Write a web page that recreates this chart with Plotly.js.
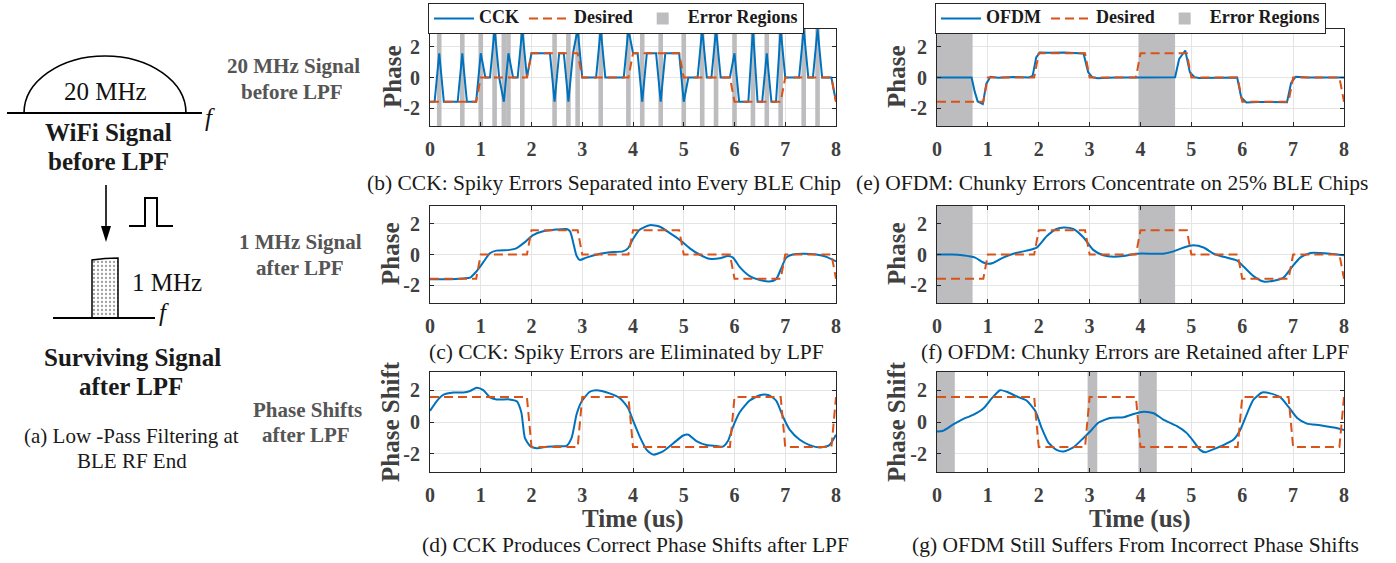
<!DOCTYPE html>
<html>
<head>
<meta charset="utf-8">
<script src="https://cdn.plot.ly/plotly-3.0.1.min.js"></script>
<style>html,body{margin:0;padding:0;background:#fff;}#chart{width:1396px;height:563px;}</style>
</head>
<body>
<div id="chart"></div>
<script>
// ---------------- data ----------------
const Q = 1.57, N = -1.57, Z = 0, P = 3.14;

const xTicks = [0, 1, 2, 3, 4, 5, 6, 7, 8];
const yTicks = [-2, 0, 2];
const yTickText = ['-2', '0', '2'];

// desired chip phases (rows 1, 2)
const desiredPhaseT = [0, 0.91, 1.0, 1.91, 2.0, 2.91, 3.0, 3.91, 4.0, 4.91, 5.0, 5.91, 6.0, 6.91, 7.0, 7.91, 8.0];
const desiredPhaseV = [N, N, Z, Z, Q, Q, Z, Z, Q, Q, Z, Z, N, N, Z, Z, N];

// desired phase shifts (row 3)
const desiredShiftT = [0, 1.91, 2.0, 2.91, 3.0, 3.91, 4.0, 5.91, 6.0, 6.91, 7.0, 7.91, 8.0];
const desiredShiftV = [Q, Q, N, N, Q, Q, N, N, Q, Q, N, N, Q];

// (b) CCK before LPF, 11 Mchip/s samples
const cckRate = 11;
const cckRaw = [
  N, N, Q, N, N, N, N, Q, N, N,
  N, Q, Z, Z, P, Z, N, Q, Z, Z,
  P, Z, Q, Q, Q, Q, Q, N, Q, Q,
  N, Q, P, Z, Z, Z, Z, P, Z, Z,
  Z, Z, Z, P, Q, Q, N, Q, Q, Q,
  N, Q, Q, Q, Q, N, Z, Z, Z, P,
  Z, Z, P, Z, Z, Z, Q, N, N, N,
  P, N, N, Q, N, N, P, Z, Z, Z,
  Z, P, Z, Z, P, Z, Z, Z, N
];

// (e) OFDM before LPF
const ofdmRawT = [0, 0.68, 0.74, 0.8, 0.9, 0.97, 1.05, 1.2, 1.5, 1.8, 1.88, 1.95, 2.02, 2.2, 2.5, 2.8, 2.88, 2.97, 3.05, 3.15, 3.5, 4.0, 4.5, 4.68, 4.76, 4.88, 4.97, 5.06, 5.15, 5.5, 5.9, 5.98, 6.08, 6.3, 6.6, 6.88, 6.96, 7.05, 7.3, 7.6, 8.0];
const ofdmRawV = [0, 0, -0.9, -1.55, -1.72, -0.4, 0.05, -0.02, 0.03, 0, 0.1, 1.3, 1.62, 1.6, 1.62, 1.6, 1.55, 0.35, 0.02, -0.05, 0, 0, 0, 0.02, 1.2, 1.75, 0.35, 0.02, -0.03, 0, 0, -1.3, -1.62, -1.58, -1.6, -1.6, -0.35, 0.05, 0, 0, 0];

// (c) CCK after LPF
const cckLpfT = [0, 0.3, 0.66, 0.79, 0.9, 1.05, 1.18, 1.31, 1.57, 1.7, 1.87, 2.03, 2.23, 2.49, 2.69, 2.76, 2.82, 2.89, 2.95, 3.08, 3.35, 3.54, 3.8, 3.9, 4.0, 4.13, 4.33, 4.53, 4.72, 4.92, 5.12, 5.31, 5.51, 5.71, 5.87, 5.97, 6.1, 6.3, 6.5, 6.69, 6.82, 6.92, 7.02, 7.15, 7.35, 7.61, 7.81, 8.0];
const cckLpfV = [-1.6, -1.6, -1.55, -1.5, -1.15, -0.5, 0.08, 0.25, 0.3, 0.4, 0.8, 1.25, 1.5, 1.62, 1.65, 1.5, 0.8, -0.1, -0.35, -0.2, 0.05, 0.15, 0.2, 0.4, 1.0, 1.6, 1.9, 1.8, 1.4, 0.95, 0.4, 0.0, -0.28, -0.25, -0.1, -0.2, -0.8, -1.4, -1.65, -1.75, -1.6, -0.9, -0.2, 0.0, 0.05, 0.0, -0.15, -0.45];

// (f) OFDM after LPF
const ofdmLpfT = [0, 0.3, 0.5, 0.75, 0.9, 1.0, 1.1, 1.3, 1.5, 1.76, 1.96, 2.16, 2.35, 2.49, 2.68, 2.88, 3.07, 3.27, 3.47, 3.67, 3.93, 4.26, 4.45, 4.65, 4.85, 5.04, 5.24, 5.44, 5.63, 5.9, 6.03, 6.22, 6.42, 6.62, 6.81, 6.98, 7.14, 7.34, 7.53, 7.73, 8.0];
const ofdmLpfV = [0, 0, -0.05, -0.2, -0.5, -0.6, -0.55, -0.2, 0.05, 0.25, 0.45, 1.2, 1.65, 1.75, 1.65, 1.1, 0.3, -0.05, -0.15, -0.1, 0.05, 0.05, 0.05, 0.2, 0.45, 0.6, 0.45, 0.05, -0.15, -0.4, -0.8, -1.4, -1.75, -1.7, -1.5, -0.8, -0.2, 0.1, 0.1, 0.05, -0.05];

// (d) CCK phase shifts
const cckShiftT = [0, 0.13, 0.26, 0.46, 0.66, 0.79, 0.92, 1.05, 1.18, 1.31, 1.57, 1.71, 1.8, 1.87, 1.97, 2.1, 2.3, 2.49, 2.69, 2.79, 2.89, 2.99, 3.15, 3.28, 3.54, 3.74, 3.9, 4.0, 4.13, 4.27, 4.4, 4.59, 4.79, 4.99, 5.09, 5.25, 5.45, 5.64, 5.77, 5.87, 5.97, 6.1, 6.3, 6.5, 6.66, 6.82, 6.96, 7.09, 7.28, 7.48, 7.68, 7.87, 8.0];
const cckShiftV = [0.7, 1.3, 1.7, 1.85, 1.85, 1.95, 2.15, 2.0, 1.55, 1.42, 1.42, 1.3, 0.6, -1.0, -1.5, -1.65, -1.55, -1.52, -1.5, -1.0, 0.5, 1.3, 1.9, 2.0, 1.8, 1.5, 0.9, 0.1, -0.9, -1.75, -2.05, -1.85, -1.35, -0.85, -0.8, -1.2, -1.45, -1.5, -1.55, -1.2, -0.3, 0.6, 1.35, 1.68, 1.7, 1.35, 0.3, -0.5, -1.1, -1.45, -1.6, -1.45, -0.8];

// (g) OFDM phase shifts
const ofdmShiftT = [0, 0.12, 0.32, 0.52, 0.71, 0.91, 1.08, 1.24, 1.37, 1.57, 1.76, 1.93, 2.06, 2.19, 2.35, 2.49, 2.68, 2.88, 3.01, 3.17, 3.4, 3.67, 3.86, 4.06, 4.26, 4.45, 4.71, 4.91, 5.04, 5.17, 5.27, 5.44, 5.63, 5.83, 5.96, 6.09, 6.22, 6.39, 6.55, 6.75, 6.91, 7.08, 7.27, 7.53, 7.8, 8.0];
const ofdmShiftV = [-0.6, -0.55, -0.15, 0.2, 0.45, 0.85, 1.5, 2.0, 1.9, 1.6, 1.35, 0.7, -0.4, -1.3, -1.75, -1.85, -1.6, -1.0, -0.6, -0.05, 0.25, 0.3, 0.5, 0.65, 0.55, 0.15, -0.25, -0.7, -1.2, -1.75, -1.9, -1.7, -1.45, -1.1, -0.5, 0.5, 1.4, 1.85, 1.8, 1.55, 0.95, 0.25, -0.1, -0.2, -0.35, -0.5];

// error regions (OFDM)
const ofdmErrStart = [0, 3.96];
const ofdmErrEnd = [0.7, 4.68];
const shiftErrStart = [0, 2.96, 3.96];
const shiftErrEnd = [0.35, 3.15, 4.32];

// legend names
const nameCCK = 'CCK', nameOFDM = 'OFDM', nameDesired = 'Desired', nameErr = 'Error Regions';

// ---------------- helpers ----------------
const W = 1396, H = 563;
const X = p => p / W, Y = p => 1 - p / H;
const SERIF = '"Liberation Serif", "Times New Roman", serif';
const BLUE = '#0072BD', ORANGE = '#D95319', GRAY = '#bdbdc0';
const AX = '#262626', TXT = '#404040';
const PI = Math.PI;
const big = s => '<span style="font-size:18px">' + s + '</span>';

function interp(ts, vs, t) {
  for (let i = 0; i < ts.length - 1; i++) {
    if (t >= ts[i] && t <= ts[i + 1]) {
      const f = (t - ts[i]) / (ts[i + 1] - ts[i]);
      return vs[i] + f * (vs[i + 1] - vs[i]);
    }
  }
  return vs[vs.length - 1];
}

const cckT = cckRaw.map((v, i) => i / cckRate);
const cckErrCenters = cckT.filter((t, i) => Math.abs(cckRaw[i] - interp(desiredPhaseT, desiredPhaseV, t)) > 0.5);

function errBar(centers, widths, xa, ya, legend, show) {
  return {
    type: 'bar', x: centers, y: centers.map(() => 2 * PI), base: centers.map(() => -PI),
    width: widths, marker: {color: GRAY, line: {width: 0}}, name: big(nameErr),
    xaxis: xa, yaxis: ya, legend: legend, showlegend: show, legendrank: 3, hoverinfo: 'skip'
  };
}
function sigLine(t, v, name, xa, ya, legend, show, shape) {
  return {
    type: 'scatter', mode: 'lines', x: t, y: v, name: big(name), xaxis: xa, yaxis: ya,
    line: {color: BLUE, width: 2, shape: shape, smoothing: 0.6},
    legend: legend, showlegend: show, legendrank: 1, hoverinfo: 'skip'
  };
}
function desLine(t, v, xa, ya, legend, show) {
  return {
    type: 'scatter', mode: 'lines', x: t, y: v, name: big(nameDesired), xaxis: xa, yaxis: ya,
    line: {color: ORANGE, width: 2, dash: '9px,5px'},
    legend: legend, showlegend: show, legendrank: 2, hoverinfo: 'skip'
  };
}

const ofdmCenters = ofdmErrStart.map((s, i) => (s + ofdmErrEnd[i]) / 2);
const ofdmWidths = ofdmErrStart.map((s, i) => ofdmErrEnd[i] - s);
const shiftCenters = shiftErrStart.map((s, i) => (s + shiftErrEnd[i]) / 2);
const shiftWidths = shiftErrStart.map((s, i) => shiftErrEnd[i] - s);

const traces = [
  // (b)
  errBar(cckErrCenters, 1 / cckRate, 'x', 'y', 'legend', true),
  sigLine(cckT, cckRaw, nameCCK, 'x', 'y', 'legend', true, 'linear'),
  desLine(desiredPhaseT, desiredPhaseV, 'x', 'y', 'legend', true),
  // (e)
  errBar(ofdmCenters, ofdmWidths, 'x2', 'y2', 'legend2', true),
  sigLine(ofdmRawT, ofdmRawV, nameOFDM, 'x2', 'y2', 'legend2', true, 'linear'),
  desLine(desiredPhaseT, desiredPhaseV, 'x2', 'y2', 'legend2', true),
  // (c)
  sigLine(cckLpfT, cckLpfV, nameCCK, 'x3', 'y3', 'legend', false, 'spline'),
  desLine(desiredPhaseT, desiredPhaseV, 'x3', 'y3', 'legend', false),
  // (f)
  errBar(ofdmCenters, ofdmWidths, 'x4', 'y4', 'legend2', false),
  sigLine(ofdmLpfT, ofdmLpfV, nameOFDM, 'x4', 'y4', 'legend2', false, 'spline'),
  desLine(desiredPhaseT, desiredPhaseV, 'x4', 'y4', 'legend2', false),
  // (d)
  sigLine(cckShiftT, cckShiftV, nameCCK, 'x5', 'y5', 'legend', false, 'spline'),
  desLine(desiredShiftT, desiredShiftV, 'x5', 'y5', 'legend', false),
  // (g)
  errBar(shiftCenters, shiftWidths, 'x6', 'y6', 'legend2', false),
  sigLine(ofdmShiftT, ofdmShiftV, nameOFDM, 'x6', 'y6', 'legend2', false, 'spline'),
  desLine(desiredShiftT, desiredShiftV, 'x6', 'y6', 'legend2', false),
  // filter diagram block (a), dotted fill
  {
    type: 'scatter', mode: 'lines', x: [92, 92, 105, 118, 118, 92], y: [318, 260, 258.6, 258, 318, 318],
    xaxis: 'x7', yaxis: 'y7', fill: 'toself', fillcolor: 'white',
    fillpattern: {shape: '.', fgcolor: '#a0a0a0', bgcolor: 'white', size: 4, solidity: 0.25},
    line: {color: 'black', width: 1.5}, showlegend: false, hoverinfo: 'skip'
  }
];

// ---------------- layout ----------------
const colX = [[X(430), X(836)], [X(937), X(1344)]];
const rowY = [[Y(126), Y(29)], [Y(303), Y(206)], [Y(472), Y(372)]];

function xa(col, row, anchor) {
  return {
    domain: colX[col], anchor: anchor, range: [0, 8], tickvals: xTicks, ticktext: xTicks.map(String),
    ticks: 'inside', ticklen: 4, tickcolor: AX, showline: true, linecolor: AX, linewidth: 1, mirror: 'ticks',
    showgrid: true, gridcolor: '#e4e4e4', gridwidth: 1, zeroline: false, ticklabelstandoff: 5,
    tickfont: {family: SERIF, size: 20, color: TXT, weight: 'bold'}, fixedrange: true
  };
}
function ya(col, row, anchor) {
  return {
    domain: rowY[row], anchor: anchor, range: [-PI, PI], tickvals: yTicks, ticktext: yTickText,
    ticks: 'inside', ticklen: 4, tickcolor: AX, showline: true, linecolor: AX, linewidth: 1, mirror: 'ticks',
    showgrid: true, gridcolor: '#e4e4e4', gridwidth: 1, zeroline: false, ticklabelstandoff: 5,
    tickfont: {family: SERIF, size: 20, color: TXT, weight: 'bold'}, fixedrange: true
  };
}

function ann(x, y, text, size, color, extra) {
  return Object.assign({
    xref: 'x7', yref: 'y7', x: x, y: y, text: text, showarrow: false,
    xanchor: 'center', yanchor: 'middle', font: {family: SERIF, size: size, color: color}
  }, extra || {});
}

const captions = [
  ['(b) CCK: Spiky Errors Separated into Every BLE Chip', 604, 183],
  ['(e) OFDM: Chunky Errors Concentrate on 25% BLE Chips', 1112, 183],
  ['(c) CCK: Spiky Errors are Eliminated by LPF', 626, 352],
  ['(f) OFDM: Chunky Errors are Retained after LPF', 1135, 352],
  ['(d) CCK Produces Correct Phase Shifts after LPF', 635, 545],
  ['(g) OFDM Still Suffers From Incorrect Phase Shifts', 1135, 545]
];
const rowLabels = [
  ['<b>20 MHz Signal</b>', 293, 66], ['<b>before LPF</b>', 292, 92],
  ['<b>1 MHz Signal</b>', 300, 242], ['<b>after LPF</b>', 300, 268],
  ['<b>Phase Shifts</b>', 307, 410], ['<b>after LPF</b>', 306, 435]
];
const yTitles = [
  ['<b>Phase</b>', 392, 77], ['<b>Phase</b>', 896, 77],
  ['<b>Phase</b>', 390, 254], ['<b>Phase</b>', 896, 254],
  ['<b>Phase Shift</b>', 390, 422], ['<b>Phase Shift</b>', 896, 422]
];

const annotations = [];
captions.forEach(c => annotations.push(ann(c[1], c[2], c[0], 21.5, '#1a1a1a')));
rowLabels.forEach(c => annotations.push(ann(c[1], c[2], c[0], 21, '#555555')));
yTitles.forEach(c => annotations.push(ann(c[1], c[2], c[0], 25, TXT, {textangle: -90})));
annotations.push(ann(633, 519, '<b>Time (us)</b>', 25, TXT));
annotations.push(ann(1140, 519, '<b>Time (us)</b>', 25, TXT));
// diagram (a) texts
annotations.push(ann(105, 91, '20 MHz', 25, '#111'));
annotations.push(ann(210, 117, '<i>f</i>', 25, '#111'));
annotations.push(ann(108, 132, '<b>WiFi Signal</b>', 25, '#1a1a1a'));
annotations.push(ann(108, 161, '<b>before LPF</b>', 25, '#1a1a1a'));
annotations.push(ann(167, 282, '1 MHz', 25, '#111'));
annotations.push(ann(164, 312, '<i>f</i>', 25, '#111'));
annotations.push(ann(132, 357, '<b>Surviving Signal</b>', 25, '#1a1a1a'));
annotations.push(ann(131, 386, '<b>after LPF</b>', 25, '#1a1a1a'));
annotations.push(ann(131, 436, '(a) Low -Pass Filtering at', 21, '#1a1a1a'));
annotations.push(ann(132, 461, 'BLE RF End', 21, '#1a1a1a'));

const dshape = (o) => Object.assign({xref: 'x7', yref: 'y7', line: {color: 'black', width: 1.6}}, o);
const shapes = [
  dshape({type: 'path', path: 'M24,113 C24,81.5 60.3,56 105,56 C149.7,56 186,81.5 186,113'}),
  dshape({type: 'line', x0: 7, y0: 113, x1: 202, y1: 113, line: {color: 'black', width: 1.8}}),
  dshape({type: 'line', x0: 106, y0: 185, x1: 106, y1: 230}),
  dshape({type: 'path', path: 'M101,226 L111,226 L106,242 Z', fillcolor: 'black', line: {width: 0}}),
  dshape({type: 'path', path: 'M129,226 L145,226 L145,198 L157,198 L157,226 L173,226', line: {color: 'black', width: 2}}),
  dshape({type: 'line', x0: 53, y0: 318, x1: 155, y1: 318, line: {color: 'black', width: 1.8}})
];

const legendBase = {
  orientation: 'h', xanchor: 'left', yanchor: 'top', y: Y(3),
  bgcolor: 'white', bordercolor: AX, borderwidth: 1, itemwidth: 40, tracegroupgap: 0,
  font: {family: SERIF, size: 12, color: '#1a1a1a', weight: 'bold'}
};

const layout = {
  width: W, height: H, margin: {l: 0, r: 0, t: 0, b: 0, pad: 0, autoexpand: false},
  paper_bgcolor: 'white', plot_bgcolor: 'rgba(0,0,0,0)',
  font: {family: SERIF, color: TXT}, hovermode: false, barmode: 'overlay',
  xaxis: xa(0, 0, 'y'), yaxis: ya(0, 0, 'x'),
  xaxis2: xa(1, 0, 'y2'), yaxis2: ya(1, 0, 'x2'),
  xaxis3: xa(0, 1, 'y3'), yaxis3: ya(0, 1, 'x3'),
  xaxis4: xa(1, 1, 'y4'), yaxis4: ya(1, 1, 'x4'),
  xaxis5: xa(0, 2, 'y5'), yaxis5: ya(0, 2, 'x5'),
  xaxis6: xa(1, 2, 'y6'), yaxis6: ya(1, 2, 'x6'),
  xaxis7: {domain: [0, 1], range: [0, W], visible: false, fixedrange: true, anchor: 'y7'},
  yaxis7: {domain: [0, 1], range: [H, 0], visible: false, fixedrange: true, anchor: 'x7'},
  legend: Object.assign({}, legendBase, {x: X(428)}),
  legend2: Object.assign({}, legendBase, {x: X(935)}),
  annotations: annotations, shapes: shapes
};

Plotly.newPlot('chart', traces, layout, {staticPlot: true, displayModeBar: false});
</script>
</body>
</html>
